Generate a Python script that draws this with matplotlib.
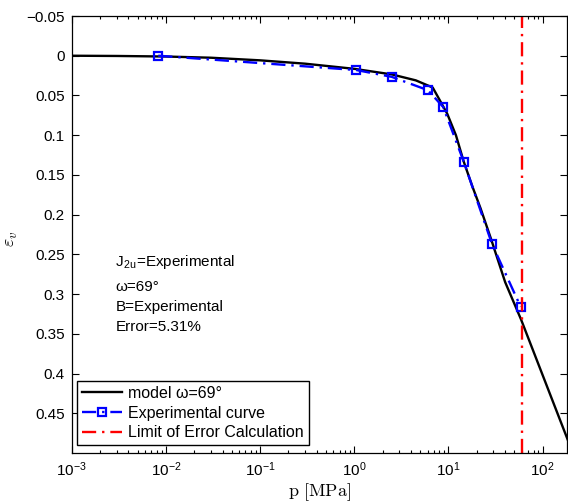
import matplotlib
matplotlib.use("Agg")
import matplotlib.pyplot as plt
import numpy as np

plt.rcParams['font.family'] = ['Liberation Sans', 'DejaVu Sans']
plt.rcParams['mathtext.fontset'] = 'cm'

# model curve (black)
p_model = [1e-3, 3e-3, 1e-2, 0.03, 0.1, 0.3, 1.0, 2.5, 4.5, 6.8,
           8.0, 9.7, 12.0, 14.5, 18.0, 21.9, 28.2, 40.0, 59.0, 200.0]
ev_model = [0.0, 0.0003, 0.001, 0.0025, 0.0058, 0.010, 0.0165, 0.0235, 0.031, 0.040,
            0.055, 0.073, 0.100, 0.133, 0.165, 0.192, 0.230, 0.285, 0.332, 0.494]

# experimental curve (blue squares)
p_exp = [0.0083, 1.05, 2.5, 6.05, 8.8, 14.6, 29.0, 58.4]
ev_exp = [0.0, 0.018, 0.0266, 0.0434, 0.0646, 0.134, 0.237, 0.316]

p_limit = 60.0

notes = ['J$_{\\mathregular{2u}}$=Experimental', 'ω=69°', 'B=Experimental', 'Error=5.31%']
note_px = [262, 287, 307, 327]

fig = plt.figure(figsize=(5.68, 5.04), dpi=100)
ax = fig.add_axes([71.7/568, 51/504, 495/568, 437/504])

ax.plot(p_model, ev_model, '-', color='black', lw=1.7, label='model ω=69°')
ax.plot(p_exp, ev_exp, '-.', color='blue', lw=1.7, marker='s', ms=6,
        mfc='none', mec='blue', mew=1.6, dashes=(6, 2.5, 1, 2.5), label='Experimental curve')
ax.axvline(p_limit, color='red', lw=1.7, ls='-.', dashes=(6, 2.5, 1, 2.5),
           label='Limit of Error Calculation')

ax.set_xscale('log')
ax.set_xlim(1e-3, 180)
ax.set_ylim(0.5, -0.05)
ax.set_yticks(np.arange(-0.05, 0.46, 0.05))
ax.set_yticklabels(['\u22120.05', '0', '0.05', '0.1', '0.15', '0.2', '0.25',
                    '0.3', '0.35', '0.4', '0.45'])
ax.tick_params(which='both', direction='in', top=True, right=True, labelsize=11, width=0.8)
ax.tick_params(which='major', length=5, pad=5)
ax.tick_params(which='minor', length=2.5)
for s in ax.spines.values():
    s.set_linewidth(0.9)

ax.set_xlabel(r'$\mathrm{p\ [MPa]}$', fontsize=13)
ax.xaxis.set_label_coords(0.5, -0.064)
ax.set_ylabel(r'$\varepsilon_v$', fontsize=13)
ax.yaxis.set_label_coords(-0.104, 0.49)

for t, py in zip(notes, note_px):
    ax.text(0.088, 1 - (py - 16) / 437, t, transform=ax.transAxes, fontsize=11, va='center')

leg = ax.legend(loc='lower left', bbox_to_anchor=(0.011, 0.018), borderaxespad=0,
                fontsize=11.5, fancybox=False, framealpha=1, edgecolor='black',
                handlelength=2.5, handletextpad=0.4, labelspacing=0.3, borderpad=0.3)
leg.get_frame().set_linewidth(1.0)

fig.savefig('out.png', dpi=100)
